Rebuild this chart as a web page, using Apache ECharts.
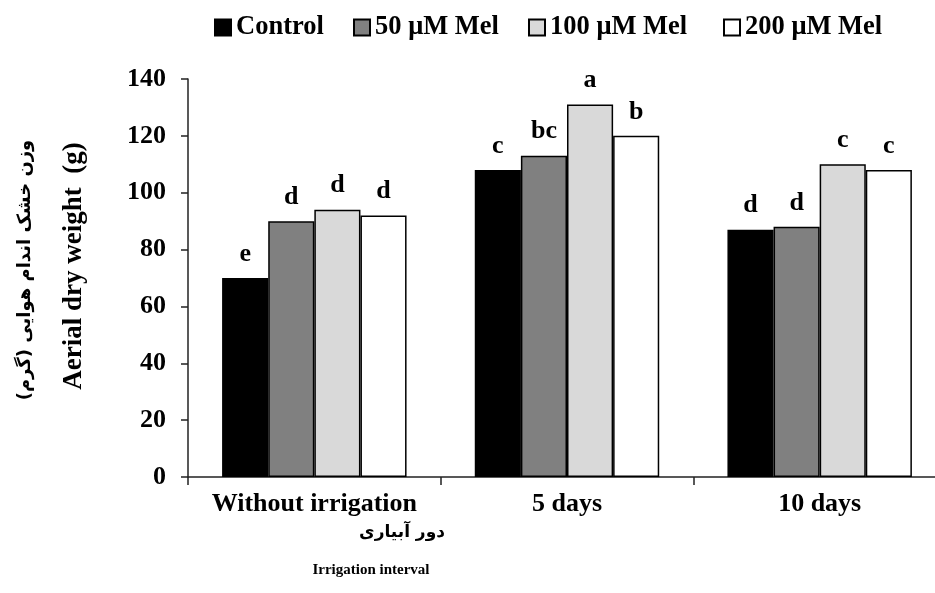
<!DOCTYPE html>
<html>
<head>
<meta charset="utf-8">
<script src="https://cdn.jsdelivr.net/npm/echarts@6/dist/echarts.min.js"></script>
<style>
html,body{margin:0;padding:0;background:#fff;}
#chart{width:935px;height:593px;}
</style>
</head>
<body>
<div id="chart"></div>
<script>
var categories = ['Without irrigation', '5 days', '10 days'];
var seriesNames = ['Control', '50 μM Mel', '100 μM Mel', '200 μM Mel'];
var controlValues = [70, 108, 87];
var mel50Values = [90, 113, 88];
var mel100Values = [94, 131, 110];
var mel200Values = [92, 120, 108];
var controlLetters = ['e', 'c', 'd'];
var mel50Letters = ['d', 'bc', 'd'];
var mel100Letters = ['d', 'a', 'c'];
var mel200Letters = ['d', 'b', 'c'];
var yTicks = [0, 20, 40, 60, 80, 100, 120, 140];

var serif = '"Liberation Serif", "Times New Roman", serif';
var fills = ['#000000', '#808080', '#d9d9d9', '#ffffff'];
var values = [controlValues, mel50Values, mel100Values, mel200Values];
var letters = [controlLetters, mel50Letters, mel100Letters, mel200Letters];
var legendLefts = [214, 353, 528, 723];

var chart = echarts.init(document.getElementById('chart'), null, {renderer: 'canvas'});

var series = seriesNames.map(function (name, i) {
  return {
    name: name,
    type: 'bar',
    data: values[i],
    barGap: '0%',
    barCategoryGap: '27%',
    itemStyle: {color: fills[i], borderColor: '#000', borderWidth: 1.5},
    label: {
      show: true,
      position: 'top',
      distance: 11,
      color: '#000',
      fontFamily: serif,
      fontWeight: 'bold',
      fontSize: 26,
      formatter: function (p) { return letters[i][p.dataIndex]; }
    }
  };
});

var legends = seriesNames.map(function (name, i) {
  return {
    data: [name],
    left: legendLefts[i],
    top: 14,
    padding: 0,
    icon: 'rect',
    itemWidth: 16,
    itemHeight: 16,
    selectedMode: false,
    textStyle: {fontFamily: serif, fontWeight: 'bold', fontSize: 26.5, color: '#000'}
  };
});

var option = {
  backgroundColor: '#fff',
  animation: false,
  legend: legends,
  grid: {left: 188, top: 79, width: 758, height: 398, containLabel: false, outerBoundsMode: 'none'},
  xAxis: {
    type: 'category',
    data: categories,
    boundaryGap: true,
    axisLine: {lineStyle: {color: '#222', width: 1.5}},
    axisTick: {show: true, alignWithLabel: false, length: 8, lineStyle: {color: '#222', width: 1.5}},
    axisLabel: {color: '#000', fontFamily: serif, fontWeight: 'bold', fontSize: 26, margin: 14, interval: 0}
  },
  yAxis: {
    type: 'value',
    min: yTicks[0],
    max: yTicks[yTicks.length - 1],
    interval: yTicks[1] - yTicks[0],
    axisLine: {show: true, lineStyle: {color: '#222', width: 1.5}},
    axisTick: {show: true, inside: false, length: 7, lineStyle: {color: '#222', width: 1.5}},
    splitLine: {show: false},
    axisLabel: {color: '#000', fontFamily: serif, fontWeight: 'bold', fontSize: 26, margin: 22}
  },
  graphic: [
    {type: 'text', x: 74, y: 266, rotation: Math.PI / 2,
     style: {text: 'Aerial dry weight  (g)', fill: '#000', font: 'bold 27px ' + serif, align: 'center', verticalAlign: 'middle'}},
    {type: 'text', x: 25, y: 270, rotation: Math.PI / 2,
     style: {text: 'وزن خشک اندام هوایی (گرم)', fill: '#000', font: 'bold 18px "DejaVu Sans", sans-serif', align: 'center', verticalAlign: 'middle'}},
    {type: 'text', x: 402, y: 533,
     style: {text: 'دور آبیاری', fill: '#000', font: 'bold 17px "DejaVu Sans", sans-serif', align: 'center', verticalAlign: 'middle'}},
    {type: 'text', x: 371, y: 570,
     style: {text: 'Irrigation interval', fill: '#000', font: 'bold 15px ' + serif, align: 'center', verticalAlign: 'middle'}}
  ],
  series: series
};
chart.setOption(option);
</script>
</body>
</html>
